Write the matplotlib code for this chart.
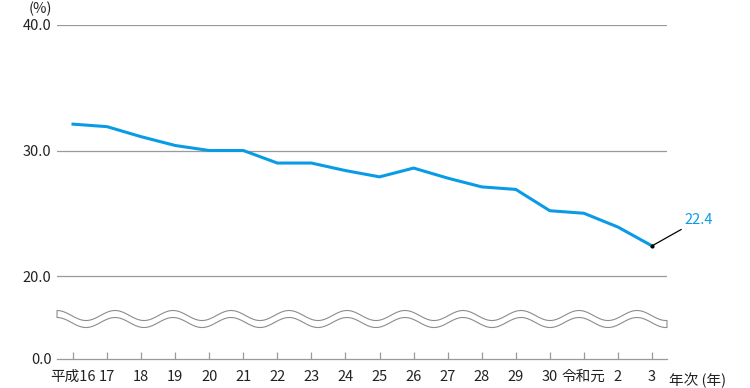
import numpy as np
import matplotlib
matplotlib.use("Agg")
import matplotlib.pyplot as plt
from matplotlib.scale import FuncScale

plt.rcParams['font.family'] = ['Noto Sans CJK JP', 'DejaVu Sans']

years = ["平成16", "17", "18", "19", "20", "21", "22", "23", "24", "25",
         "26", "27", "28", "29", "30", "令和元", "2", "3"]
values = [32.1, 31.9, 31.1, 30.4, 30.0, 30.0, 29.0, 29.0, 28.4, 27.9,
          28.6, 27.8, 27.1, 26.9, 25.2, 25.0, 23.9, 22.4]
yticks = [0, 20, 30, 40]
ytick_labels = ["0.0", "20.0", "30.0", "40.0"]

BLUE = "#0a9be6"
GRAY = "#9a9a9a"
TEXT = "#222222"

fig = plt.figure(figsize=(7.5, 3.88), dpi=100)
ax = fig.add_axes([57/750, (388-359)/388, 610/750, (359-25)/388])

LOW = 83/12.55  # compressed height of 0..20 section

def fwd(v):
    v = np.asarray(v, dtype=float)
    return np.where(v < 20, v*LOW/20, v - 20 + LOW)

def inv(u):
    u = np.asarray(u, dtype=float)
    return np.where(u < LOW, u*20/LOW, u + 20 - LOW)

ax.set_yscale(FuncScale(ax, (fwd, inv)))
ax.set_ylim(0, 40)
x = np.arange(len(years))
ax.set_xlim(-0.47, 17.44)

ax.plot(x, values, color=BLUE, lw=2.2, solid_joinstyle='round', zorder=3)

# grid lines
for v in [20, 30, 40]:
    ax.axhline(v, color=GRAY, lw=0.9, zorder=1)

for s in ['top', 'right', 'left']:
    ax.spines[s].set_visible(False)
ax.spines['bottom'].set_color(GRAY)
ax.spines['bottom'].set_linewidth(0.9)

ax.set_yticks(yticks)
ax.set_yticklabels(ytick_labels)
ax.yaxis.set_minor_locator(matplotlib.ticker.NullLocator())
ax.tick_params(axis='y', length=0, pad=4, labelsize=10.5, labelcolor=TEXT)
ax.set_xticks(x)
ax.set_xticklabels(years)
ax.tick_params(axis='x', direction='in', length=5, width=0.9, color=GRAY,
               pad=8, labelsize=10.5, labelcolor=TEXT)

# axis break (wavy band)
xs = np.linspace(0, 1, 400)
per = 58/610
up = 0.1302 + 0.015*np.cos(2*np.pi*xs/per)
lo = up - 7/334
poly_x = np.concatenate([xs, xs[::-1]])
poly_y = np.concatenate([up, lo[::-1]])
ax.fill(poly_x, poly_y, facecolor='white', edgecolor="#8c8c8c", lw=0.8,
        transform=ax.transAxes, zorder=2, clip_on=False)

# annotation of last value
ax.plot([x[-1]], [values[-1]], marker='o', ms=2, color='black', zorder=4)
ax.annotate(f"{values[-1]:.1f}", xy=(x[-1], values[-1]),
            xytext=(32, 26), textcoords='offset pixels',
            ha='left', va='center', color=BLUE, fontsize=10.5,
            arrowprops=dict(arrowstyle='-', color='black', lw=0.9,
                            shrinkA=0, shrinkB=0))

fig.text(40/750, 1 - 9/388, "(%)", ha='center', va='center',
         fontsize=10.5, color=TEXT)
fig.text(669/750, 1 - 380/388, "年次 (年)", ha='left', va='center',
         fontsize=10.5, color=TEXT)

fig.savefig("out.png", dpi=100)
